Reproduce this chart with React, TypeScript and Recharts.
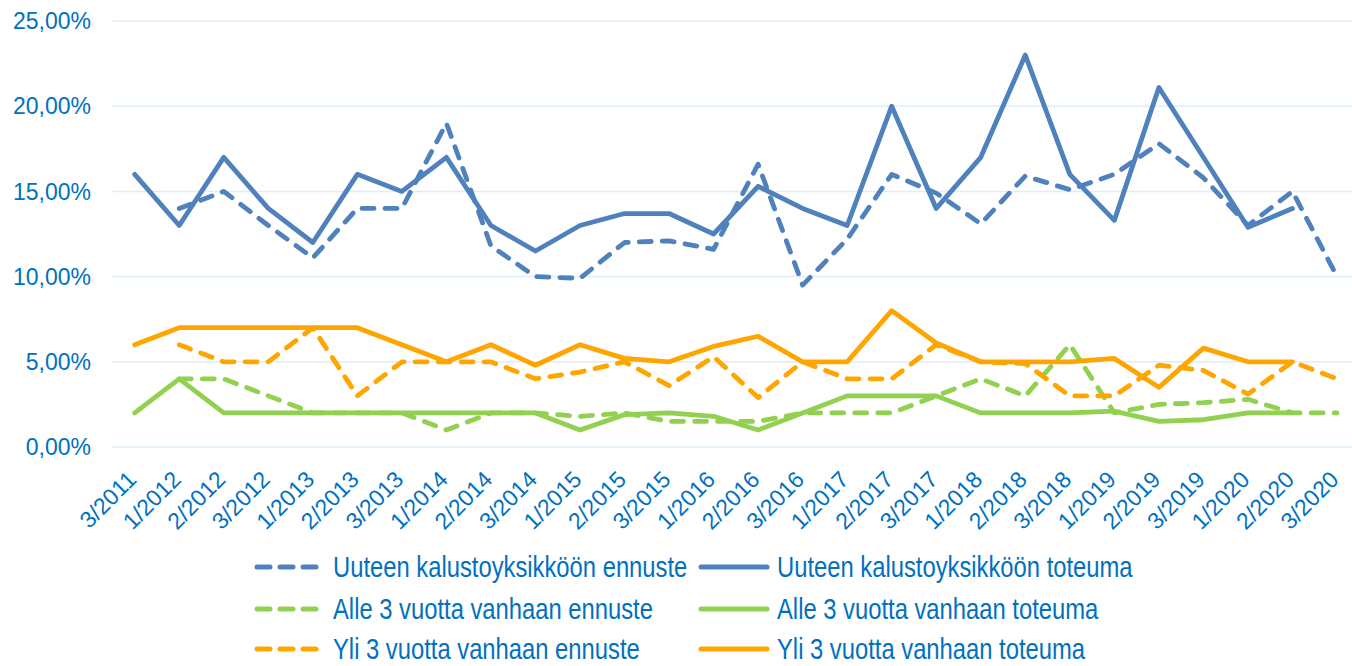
import { LineChart, Line, XAxis, YAxis, CartesianGrid } from "recharts";

const quarters = [
  "3/2011", "1/2012", "2/2012", "3/2012", "1/2013", "2/2013", "3/2013",
  "1/2014", "2/2014", "3/2014", "1/2015", "2/2015", "3/2015", "1/2016",
  "2/2016", "3/2016", "1/2017", "2/2017", "3/2017", "1/2018", "2/2018",
  "3/2018", "1/2019", "2/2019", "3/2019", "1/2020", "2/2020", "3/2020"
];

// percent values
const uuteenEnnuste = [null, 14, 15, 13, 11.1, 14, 14, 19, 11.8, 10, 9.9, 12, 12.1, 11.6, 16.6, 9.5, 12.2, 16, 14.9, 13.1, 15.9, 15.1, 16, 17.8, 15.8, 13, 15, 10];
const uuteenToteuma = [16, 13, 17, 14, 12, 16, 15, 17, 13, 11.5, 13, 13.7, 13.7, 12.5, 15.3, 14, 13, 20, 14, 17, 23, 16, 13.3, 21.1, 17, 12.9, 14, null];
const alleEnnuste = [null, 4, 4, 3, 2, 2, 2, 1, 2, 2, 1.8, 2, 1.5, 1.5, 1.5, 2, 2, 2, 3, 4, 3, 6, 2, 2.5, 2.6, 2.8, 2, 2];
const alleToteuma = [2, 4, 2, 2, 2, 2, 2, 2, 2, 2, 1, 1.9, 2, 1.8, 1, 2, 3, 3, 3, 2, 2, 2, 2.1, 1.5, 1.6, 2, 2, null];
const yliEnnuste = [null, 6, 5, 5, 7, 3, 5, 5, 5, 4, 4.4, 5, 3.6, 5.3, 2.9, 5, 4, 4, 6, 5, 4.9, 3, 3, 4.8, 4.5, 3.1, 5, 4];
const yliToteuma = [6, 7, 7, 7, 7, 7, 6, 5, 6, 4.8, 6, 5.2, 5, 5.9, 6.5, 5, 5, 8, 6.1, 5, 5, 5, 5.2, 3.5, 5.8, 5, 5, null];

const yTicks = [0, 5, 10, 15, 20, 25];

const BLUE = "#4F81BD";
const GREEN = "#92D050";
const ORANGE = "#FFA500";
const TEXT = "#0070C0";
const FONT = "'Liberation Sans', Arial, sans-serif";

const series = [
  { key: "uuteenEnnuste", name: "Uuteen kalustoyksikköön ennuste", color: BLUE, dashed: true, values: uuteenEnnuste },
  { key: "uuteenToteuma", name: "Uuteen kalustoyksikköön toteuma", color: BLUE, dashed: false, values: uuteenToteuma },
  { key: "alleEnnuste", name: "Alle 3 vuotta vanhaan ennuste", color: GREEN, dashed: true, values: alleEnnuste },
  { key: "alleToteuma", name: "Alle 3 vuotta vanhaan toteuma", color: GREEN, dashed: false, values: alleToteuma },
  { key: "yliEnnuste", name: "Yli 3 vuotta vanhaan ennuste", color: ORANGE, dashed: true, values: yliEnnuste },
  { key: "yliToteuma", name: "Yli 3 vuotta vanhaan toteuma", color: ORANGE, dashed: false, values: yliToteuma }
];

const data = quarters.map((q, i) => {
  const row: Record<string, string | number | null> = { q };
  series.forEach((s) => {
    row[s.key] = s.values[i];
  });
  return row;
});

const fmt = (v: number) => v.toFixed(2).replace(".", ",") + "%";

function XTick(props: any) {
  const { x, y, payload } = props;
  const ax = x + 3;
  const ay = y + 34;
  return (
    <text
      x={ax}
      y={ay}
      transform={`rotate(-45, ${ax}, ${ay})`}
      textAnchor="end"
      fill={TEXT}
      fontSize={23}
      fontFamily={FONT}
    >
      {payload.value}
    </text>
  );
}

function LegendIcon({ color, dashed, left, top }: { color: string; dashed: boolean; left: number; top: number }) {
  return (
    <svg width={80} height={12} style={{ position: "absolute", left, top: top - 6 }}>
      {dashed ? (
        [0, 1, 2].map((k) => (
          <line key={k} x1={5 + k * 23} x2={18 + k * 23} y1={6} y2={6} stroke={color} strokeWidth={5} strokeLinecap="round" />
        ))
      ) : (
        <line x1={4} x2={70} y1={6} y2={6} stroke={color} strokeWidth={5} strokeLinecap="round" />
      )}
    </svg>
  );
}

function ChartLegend() {
  // last row nudged up so it stays inside the frame
  const rowsY = [567, 609, 649];
  return (
    <>
      {series.map((s, i) => {
        const row = Math.floor(i / 2);
        const col = i % 2;
        const cy = rowsY[row];
        const iconX = col === 0 ? 252 : 697;
        const textX = col === 0 ? 333 : 777;
        return (
          <div key={s.key}>
            <LegendIcon color={s.color} dashed={s.dashed} left={iconX} top={cy} />
            <span
              style={{
                position: "absolute",
                left: textX,
                top: cy - 14,
                fontSize: 29,
                lineHeight: "29px",
                fontFamily: FONT,
                color: TEXT,
                whiteSpace: "nowrap",
                transform: "scaleX(0.82)",
                transformOrigin: "left center"
              }}
            >
              {s.name}
            </span>
          </div>
        );
      })}
    </>
  );
}

export default function App() {
  return (
    <div
      style={{
        position: "absolute",
        left: 0,
        top: 0,
        width: 1352,
        height: 666,
        overflow: "hidden",
        background: "#fff"
      }}
    >
      <LineChart width={1359.3} height={666} data={data} margin={{ top: 21, right: 0, left: 0, bottom: 0 }}>
        <CartesianGrid vertical={false} stroke="#DDEEF8" strokeWidth={1.5} />
        <XAxis
          dataKey="q"
          interval={0}
          padding={{ left: 22.2, right: 22.3 }}
          height={219}
          axisLine={false}
          tickLine={false}
          tickSize={0}
          tickMargin={0}
          tick={<XTick />}
        />
        <YAxis
          width={112.5}
          domain={[0, 25]}
          ticks={yTicks}
          tickFormatter={fmt}
          axisLine={false}
          tickLine={false}
          tickSize={0}
          tickMargin={21.5}
          tick={{ fill: TEXT, fontSize: 23, fontFamily: FONT }}
        />
        {series.map((s) => (
          <Line
            key={s.key}
            type="linear"
            dataKey={s.key}
            name={s.name}
            stroke={s.color}
            strokeWidth={4.8}
            strokeDasharray={s.dashed ? "12 11" : undefined}
            strokeLinecap="round"
            strokeLinejoin="round"
            dot={false}
            activeDot={false}
            isAnimationActive={false}
          />
        ))}
      </LineChart>
      <ChartLegend />
    </div>
  );
}
